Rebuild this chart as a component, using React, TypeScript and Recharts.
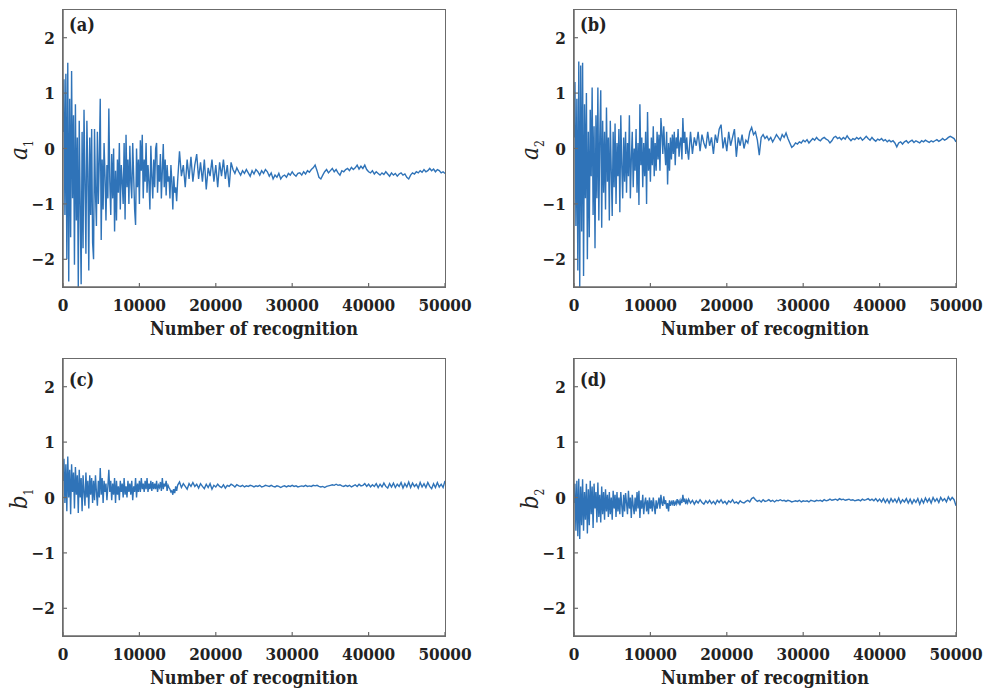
import React from 'react';
import { LineChart, Line, XAxis, YAxis } from 'recharts';

// x positions: early part every 125 iterations (0..15000), late part every 250 (15250..50000)
const EARLY_STEP = 125;
const LATE_START = 15250;
const LATE_STEP = 250;

const xTicks = [0, 10000, 20000, 30000, 40000, 50000];
const yTicks = [-2, -1, 0, 1, 2];

// ---- (a) a1 ----
const a1Early = [
  0.3, 1.25, -1.2, 1.35, -2.0, 1.55, -2.4, 0.9,
  -1.6, 1.4, -0.9, 0.6, -2.1, 0.8, -1.3, 0.2,
  -2.5, 0.5, -1.0, -2.45, 0.3, -1.8, 0.7, -0.6,
  -1.9, 0.5, -0.4, -2.2, 0.2, -1.2, 0.35, -1.7,
  -2.0, 0.35, -0.8, -1.4, 0.3, -1.0, -0.2, 0.9,
  -1.65, -0.2, -1.1, 0.1, -0.5, -1.3, -0.3, -0.9,
  0.72, -0.6, -1.2, -0.1, -0.9, 0.0, -1.5, -0.4,
  -1.3, -0.2, -0.8, 0.1, -1.1, -0.3, -0.6, -1.0,
  0.1, -1.28, 0.25, -0.7, -0.2, -1.0, 0.05, -0.6,
  -0.9, 0.1, -0.5, -1.1, -1.38, 0.0, -0.7, -0.2,
  -1.0, 0.15, -0.4, 0.25, -0.9, -0.2, -0.6, 0.1,
  -0.8, -0.3, -0.6, -1.1, 0.05, -0.5, -0.9, -0.2,
  -0.7, 0.0, 0.1, -0.8, -0.3, -0.6, -0.1, -0.9,
  -0.4, 0.08, -0.7, -0.2, -0.85, -0.3, -0.6, -0.5,
  -0.9, -0.3, -0.6, -1.1, -0.5, -0.8, -0.7, -0.95,
  -0.6,
];
const a1Late = [
  -0.05, -0.5, -0.3, -0.7, -0.2, -0.55, -0.15, -0.6,
  -0.3, -0.1, -0.55, -0.25, -0.6, -0.2, -0.74, -0.35,
  -0.5, -0.2, -0.6, -0.3, -0.7, -0.25, -0.5, -0.2,
  -0.55, -0.3, -0.7, -0.25, -0.38, -0.45, -0.35, -0.42,
  -0.48, -0.4, -0.45, -0.38, -0.44, -0.5, -0.4, -0.46,
  -0.38, -0.42, -0.48, -0.4, -0.45, -0.38, -0.42, -0.5,
  -0.44, -0.55, -0.48, -0.52, -0.45, -0.55, -0.5, -0.48,
  -0.52, -0.45, -0.48, -0.42, -0.47, -0.5, -0.45, -0.44,
  -0.48, -0.42, -0.46, -0.4, -0.43, -0.38, -0.35, -0.3,
  -0.4, -0.52, -0.55, -0.48, -0.42, -0.38, -0.44, -0.4,
  -0.36, -0.42, -0.38, -0.44, -0.48, -0.4, -0.42, -0.38,
  -0.36, -0.4, -0.34, -0.38, -0.35, -0.3, -0.37, -0.32,
  -0.36, -0.3, -0.38, -0.42, -0.44, -0.4, -0.46, -0.42,
  -0.45, -0.48, -0.44, -0.47, -0.42, -0.46, -0.5, -0.44,
  -0.48, -0.45, -0.5, -0.46, -0.44, -0.48, -0.46, -0.52,
  -0.55, -0.48, -0.44, -0.46, -0.42, -0.44, -0.4, -0.43,
  -0.38, -0.42, -0.4, -0.36, -0.4, -0.37, -0.42, -0.38,
  -0.4, -0.44, -0.42, -0.45,
];

// ---- (b) a2 ----
const a2Early = [
  0.2, 1.2, -1.4, 0.9, -2.2, 1.57, -2.5, 1.5,
  -1.5, 1.55, -2.3, 0.8, -0.9, 1.0, -2.0, 0.3,
  -1.6, 0.7, -0.5, 1.1, -1.2, 0.4, -1.8, 0.6,
  -0.9, 1.1, -1.3, 0.2, 1.05, -1.43, 0.5, -0.8,
  0.3, -1.1, 0.74, -0.6, 0.2, -1.3, 0.5, -0.4,
  -1.22, 0.3, -0.7, 0.45, -1.0, 0.1, -0.5, 0.35,
  -1.15, 0.6, -0.3, -0.9, 0.2, -0.6, 0.3, -0.8,
  0.1, -0.5, 0.6, -0.9, -0.2, 0.3, -0.7, 0.0,
  -0.4, 0.35, -0.8, 0.1, -1.02, 0.8, -0.3, 0.2,
  -0.7, 0.1, -0.5, 0.3, -1.0, 0.66, -0.4, 0.0,
  -0.6, 0.2, -0.3, 0.4, -0.5, 0.1, -0.4, 0.3,
  -0.2, 0.25, -0.4, 0.55, 0.3, -0.1, 0.4, 0.0,
  -0.3, 0.3, -0.65, 0.1, -0.4, 0.2, -0.2, 0.25,
  -0.1, 0.3, -0.3, 0.2, 0.0, 0.35, -0.15, 0.1,
  0.2, -0.2, 0.55, 0.1, 0.3, -0.1, 0.2, -0.05,
  -0.2,
];
const a2Late = [
  0.3, -0.1, 0.2, 0.05, 0.3, -0.05, 0.25, 0.1,
  0.0, 0.3, 0.05, 0.2, -0.1, 0.25, 0.1, 0.35,
  0.43, 0.0, 0.2, -0.05, 0.3, 0.05, 0.2, 0.35,
  -0.15, 0.2, 0.05, 0.25, 0.0, 0.15, 0.1, 0.3,
  0.38, 0.25, 0.3, 0.15, -0.12, 0.2, 0.25, 0.18,
  0.22, 0.15, 0.2, 0.12, 0.18, 0.25, 0.2, 0.15,
  0.25, 0.2, 0.28, 0.18, 0.1, 0.02, 0.05, 0.1,
  0.08, 0.12, 0.1, 0.15, 0.12, 0.16, 0.1, 0.14,
  0.18, 0.15, 0.2, 0.16, 0.14, 0.18, 0.2, 0.17,
  0.15, 0.1, 0.14, 0.2, 0.22, 0.18, 0.2, 0.16,
  0.2, 0.17, 0.23, 0.18, 0.14, 0.18, 0.16, 0.2,
  0.17, 0.2, 0.15, 0.18, 0.22, 0.18, 0.15, 0.2,
  0.16, 0.13, 0.17, 0.15, 0.18, 0.14, 0.16, 0.12,
  0.15, 0.12, 0.14, 0.1, 0.03, 0.1, 0.12, 0.08,
  0.12, 0.14, 0.1, 0.13, 0.15, 0.11, 0.14, 0.12,
  0.1, 0.14, 0.12, 0.15, 0.13, 0.11, 0.14, 0.12,
  0.14, 0.16, 0.13, 0.15, 0.18, 0.15, 0.17, 0.2,
  0.22, 0.2, 0.18, 0.12,
];

// ---- (c) b1 ----
const b1Early = [
  0.3, 0.7, -0.1, 0.6, -0.25, 0.74, 0.0, 0.5,
  -0.3, 0.6, 0.1, 0.45, -0.2, 0.55, 0.05, 0.4,
  -0.28, 0.5, 0.0, 0.35, -0.25, 0.4, 0.1, -0.15,
  0.45, 0.0, 0.3, -0.2, 0.4, 0.05, 0.35, -0.1,
  0.3, -0.05, 0.4, 0.1, -0.15, 0.3, 0.0, 0.53,
  0.05, 0.35, -0.1, 0.3, 0.1, 0.25, -0.05, 0.2,
  0.5, 0.1, 0.3, -0.05, 0.25, 0.05, 0.35, -0.1,
  0.3, 0.05, 0.2, -0.05, 0.3, 0.1, 0.25, 0.0,
  0.35, 0.05, 0.2, 0.0, 0.3, 0.1, 0.25, 0.05,
  0.3, -0.05, 0.2, 0.1, 0.35, 0.0, 0.25, 0.1,
  0.3, 0.1, 0.35, 0.15, 0.25, 0.1, 0.3, 0.15,
  0.35, 0.1, 0.25, 0.15, 0.3, 0.12, 0.28, 0.15,
  0.25, 0.15, 0.3, 0.1, 0.22, 0.18, 0.28, 0.12,
  0.35, 0.15, 0.25, 0.2, 0.3, 0.12, 0.22, 0.18,
  0.15, 0.1, 0.12, 0.05, 0.15, 0.08, 0.2, 0.12,
  0.22,
];
const b1Late = [
  0.28, 0.18, 0.25, 0.2, 0.15, 0.25, 0.2, 0.27,
  0.2, 0.24, 0.17, 0.25, 0.2, 0.16, 0.24, 0.18,
  0.25, 0.15, 0.22, 0.19, 0.24, 0.2, 0.18, 0.23,
  0.17, 0.22, 0.2, 0.24, 0.22, 0.19, 0.23, 0.21,
  0.2, 0.22, 0.19, 0.21, 0.2, 0.22, 0.21, 0.19,
  0.21, 0.2, 0.22, 0.19, 0.2, 0.22, 0.21, 0.2,
  0.22, 0.2, 0.19, 0.21, 0.2, 0.18, 0.2, 0.21,
  0.19, 0.21, 0.2, 0.22, 0.2, 0.21, 0.19, 0.2,
  0.21, 0.2, 0.22, 0.2, 0.21, 0.2, 0.22, 0.21,
  0.22, 0.2, 0.19, 0.2, 0.18, 0.2, 0.21, 0.22,
  0.23, 0.22, 0.24, 0.22, 0.23, 0.21, 0.2, 0.22,
  0.2, 0.22, 0.19, 0.21, 0.23, 0.2, 0.24, 0.21,
  0.22, 0.25, 0.2, 0.24, 0.19, 0.23, 0.2, 0.25,
  0.18, 0.24, 0.19, 0.26, 0.2, 0.17, 0.25, 0.19,
  0.26, 0.18, 0.24, 0.2, 0.27, 0.17, 0.25, 0.19,
  0.28, 0.18, 0.26, 0.2, 0.24, 0.17, 0.27, 0.19,
  0.25, 0.18, 0.27, 0.2, 0.16, 0.25, 0.18, 0.27,
  0.19, 0.24, 0.18, 0.3,
];

// ---- (d) b2 ----
const b2Early = [
  -0.1, 0.25, -0.6, 0.3, -0.7, 0.34, -0.75, 0.2,
  -0.5, 0.33, -0.6, 0.1, -0.4, 0.25, -0.65, 0.15,
  -0.5, 0.3, -0.3, 0.2, -0.55, 0.25, -0.2, 0.1,
  -0.45, 0.27, -0.35, 0.05, -0.45, 0.2, -0.3, 0.1,
  -0.4, 0.15, -0.25, 0.05, -0.35, 0.1, -0.3, 0.0,
  -0.4, 0.12, -0.2, 0.05, -0.35, 0.1, -0.25, 0.0,
  -0.3, 0.1, -0.15, -0.35, 0.05, -0.25, 0.08, -0.1,
  -0.3, 0.12, -0.2, 0.0, -0.37, 0.05, -0.15, -0.3,
  0.0, -0.25, 0.1, -0.2, 0.12, -0.37, -0.05, -0.2,
  0.05, -0.3, -0.1, 0.0, -0.25, -0.05, -0.3, 0.0,
  -0.2, -0.05, -0.25, 0.0, -0.15, -0.3, -0.05, -0.2,
  -0.1, 0.0, -0.2, 0.05, -0.1, -0.15, 0.02, -0.12,
  -0.05, -0.2, -0.1, -0.25, -0.05, -0.15, -0.08, -0.12,
  -0.05, -0.15, -0.08, -0.12, -0.03, -0.1, -0.06, -0.14,
  -0.05, -0.1, 0.05, -0.08, -0.02, -0.12, -0.05, -0.1,
  -0.03,
];
const b2Late = [
  -0.1, -0.05, -0.12, -0.06, -0.1, -0.04, -0.09, -0.12,
  -0.06, -0.1, -0.05, -0.11, -0.07, -0.12, -0.05, -0.09,
  -0.04, -0.1, -0.07, -0.12, -0.06, -0.09, -0.04, -0.1,
  -0.08, -0.11, -0.06, -0.09, -0.1, -0.07, -0.05, -0.08,
  -0.02, 0.0, -0.04, -0.07, -0.05, -0.08, -0.04, -0.07,
  -0.06, -0.04, -0.07, -0.05, -0.08, -0.05, -0.06, -0.04,
  -0.06, -0.05, -0.07, -0.05, -0.06, -0.08, -0.07, -0.06,
  -0.07, -0.05, -0.08, -0.06, -0.07, -0.06, -0.08, -0.05,
  -0.06, -0.07, -0.05, -0.06, -0.05, -0.07, -0.04, -0.06,
  -0.05, -0.03, -0.05, -0.04, -0.03, -0.05, -0.02, -0.04,
  -0.03, -0.05, -0.04, -0.03, -0.05, -0.04, -0.06, -0.05,
  -0.04, -0.06, -0.03, -0.05, -0.04, -0.02, -0.05, -0.03,
  -0.06, -0.02, -0.07, -0.03, -0.08, -0.02, -0.09, -0.03,
  -0.1, -0.02, -0.08, -0.03, -0.09, -0.01, -0.1, -0.04,
  -0.08, -0.02, -0.1, -0.03, -0.11, -0.04, -0.09, -0.02,
  -0.12, -0.03, -0.1, -0.01, -0.08, -0.02, -0.1, 0.0,
  -0.07, -0.02, -0.09, 0.0, -0.06, -0.02, -0.08, 0.01,
  -0.05, 0.0, -0.04, -0.15,
];

const buildSeries = (early: number[], late: number[]) => [
  ...early.map((v, i) => ({ x: i * EARLY_STEP, y: v })),
  ...late.map((v, i) => ({ x: LATE_START + i * LATE_STEP, y: v })),
];

const FONT = "'DejaVu Serif Condensed', 'DejaVu Serif', serif";
const AXIS = '#6b6b6b';
const LINE = '#2f73b8';
const TEXT = '#222';

type PanelProps = {
  left: number;
  top: number;
  early: number[];
  late: number[];
  sym: string;
  sub: string;
  tag: string;
  tagTop: number;
};

const W = 490;
const H = 343;
const M = { top: 10, right: 45, bottom: 0, left: 0 };
const Y_W = 63;
const X_H = 56;

function Panel({ left, top, early, late, sym, sub, tag, tagTop }: PanelProps) {
  const data = buildSeries(early, late);
  const plotW = W - M.right - Y_W;
  const plotH = H - M.top - X_H;
  return (
    <div style={{ position: 'absolute', left, top, width: W, height: H }}>
      <LineChart width={W} height={H} data={data} margin={M}>
        <XAxis
          dataKey="x"
          type="number"
          domain={[0, 50000]}
          ticks={xTicks}
          interval={0}
          height={X_H}
          tickSize={-4}
          tickMargin={16}
          tickLine={{ stroke: AXIS, strokeWidth: 1.2 }}
          axisLine={{ stroke: AXIS, strokeWidth: 1.5 }}
          tick={{ fill: TEXT, fontSize: 17, fontFamily: FONT, fontWeight: 'bold' }}
          label={{
            value: 'Number of recognition',
            position: 'insideBottom',
            offset: 8,
            fill: TEXT,
            fontSize: 18,
            fontFamily: FONT,
            fontWeight: 'bold',
          }}
        />
        <YAxis
          type="number"
          domain={[-2.5, 2.5]}
          ticks={yTicks}
          interval={0}
          allowDataOverflow
          width={Y_W}
          tickSize={-4}
          tickMargin={12}
          tickLine={{ stroke: AXIS, strokeWidth: 1.2 }}
          axisLine={{ stroke: AXIS, strokeWidth: 1.5 }}
          tick={{ fill: TEXT, fontSize: 17, fontFamily: FONT, fontWeight: 'bold' }}
          tickFormatter={(v: number) => (v < 0 ? '\u2212' + Math.abs(v) : String(v))}
        />
        <Line
          type="linear"
          dataKey="y"
          stroke={LINE}
          strokeWidth={1.4}
          dot={false}
          isAnimationActive={false}
        />
      </LineChart>
      {/* frame around plot area */}
      <div
        style={{
          position: 'absolute',
          left: Y_W - 0.75,
          top: M.top - 0.75,
          width: plotW,
          height: plotH,
          border: `1.5px solid ${AXIS}`,
          pointerEvents: 'none',
        }}
      />
      <div
        style={{
          position: 'absolute',
          left: 21,
          top: 150,
          transform: 'translate(-50%, -50%) rotate(-90deg)',
          fontFamily: FONT,
          fontSize: 24,
          color: TEXT,
          whiteSpace: 'nowrap',
          lineHeight: 1,
        }}
      >
        <i>{sym}</i>
        <sub style={{ fontSize: 12 }}>{sub}</sub>
      </div>
      <div
        style={{
          position: 'absolute',
          left: 69,
          top: tagTop,
          fontFamily: FONT,
          fontSize: 18,
          fontWeight: 'bold',
          color: TEXT,
          lineHeight: 1,
        }}
      >
        {tag}
      </div>
    </div>
  );
}

export default function App() {
  return (
    <div
      style={{
        position: 'absolute',
        left: 0,
        top: 0,
        width: 987,
        height: 692,
        background: '#fff',
        overflow: 'hidden',
      }}
    >
      <Panel left={0} top={0} early={a1Early} late={a1Late} sym="a" sub="1" tag="(a)" tagTop={16} />
      <Panel left={511} top={0} early={a2Early} late={a2Late} sym="a" sub="2" tag="(b)" tagTop={16} />
      <Panel left={0} top={349} early={b1Early} late={b1Late} sym="b" sub="1" tag="(c)" tagTop={22} />
      <Panel left={511} top={349} early={b2Early} late={b2Late} sym="b" sub="2" tag="(d)" tagTop={22} />
    </div>
  );
}
